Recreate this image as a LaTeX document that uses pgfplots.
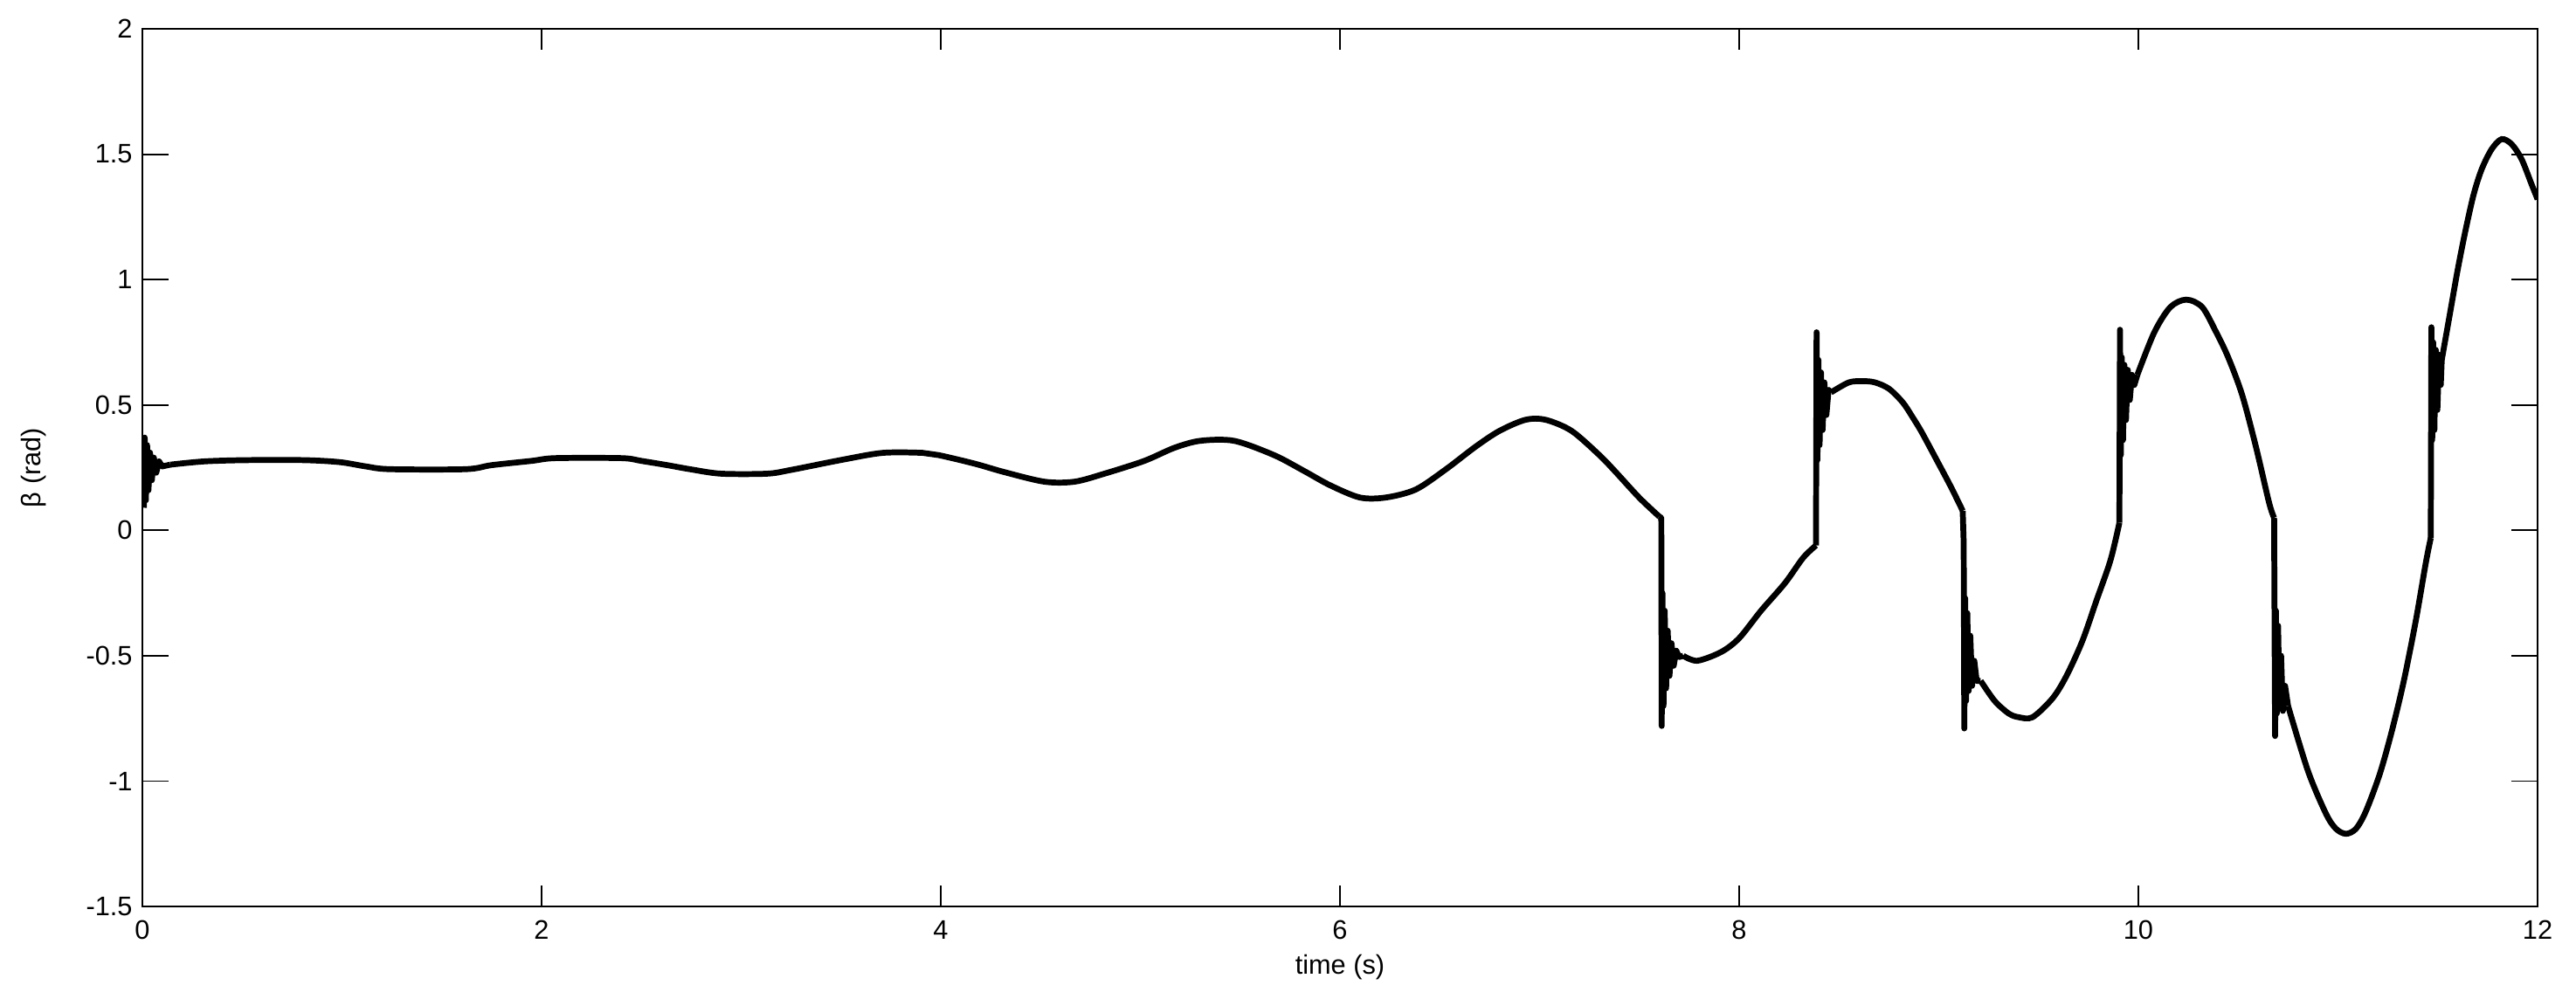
\documentclass[border=0pt]{standalone}
\usepackage{fontspec}
\setmainfont{Liberation Sans}
\usepackage{pgfplots}
\pgfplotsset{compat=1.18}
\begin{document}
\begin{tikzpicture}
\path[use as bounding box] (-50.9pt,-35.3pt) rectangle (870.65pt,324.4pt);
\begin{axis}[
  scale only axis,
  width=856.9pt, height=314.1pt,
  xmin=0, xmax=12, ymin=-1.5, ymax=2,
  xtick={0,2,4,6,8,10,12},
  xticklabels={0,2,4,6,8,10,12},
  ytick={-1.5,-1,-0.5,0,0.5,1,1.5,2},
  yticklabels={-1.5,-1,-0.5,0,0.5,1,1.5,2},
  tick align=inside, tick pos=both,
  minor tick num=0,
  major tick length=8.5pt,
  xtick style={/pgfplots/major tick length=7.5pt, line width=0.6pt, black},
  ytick style={/pgfplots/major tick length=9.4pt, line width=0.6pt, black},
  axis line style={line width=0.6pt, black},
  ticklabel style={font=\fontsize{9.6}{11.5}\selectfont},
  xticklabel style={yshift=-1.5pt},
  xlabel={time (s)},
  ylabel={β (rad)},
  xlabel style={font=\fontsize{9.6}{11.5}\selectfont, at={([yshift=-21.6pt]axis description cs:0.5,0)}, anchor=center},
  ylabel style={font=\fontsize{9.6}{11.5}\selectfont, at={([xshift=-39pt]axis description cs:0,0.5)}, anchor=center, rotate=0},
  clip=true,
]
% start transient (sharp)
\addplot[black, line width=2.1pt, line join=round] coordinates {
(0.008,0.09) (0.012,0.37) (0.018,0.12) (0.024,0.34) (0.031,0.16) (0.039,0.31)
(0.048,0.20) (0.058,0.29) (0.070,0.23) (0.084,0.275) (0.10,0.255) (0.14,0.262)
};
% segment A
\addplot[black, line width=2.1pt, smooth, tension=0.5] coordinates {
(0.14,0.262) (0.31,0.275) (0.52,0.28) (0.81,0.28) (0.99,0.272) (1.12,0.255)
(1.24,0.244) (1.62,0.244) (1.75,0.26) (1.95,0.277) (2.07,0.288) (2.40,0.288)
(2.50,0.277) (2.63,0.26) (2.75,0.243) (2.90,0.226) (3.13,0.226) (3.25,0.241)
(3.51,0.282) (3.71,0.309) (3.91,0.309) (3.99,0.300) (4.17,0.266) (4.32,0.232)
(4.52,0.194) (4.67,0.194) (4.82,0.226) (5.02,0.277) (5.17,0.329) (5.30,0.357)
(5.47,0.357) (5.67,0.300) (5.82,0.237) (5.95,0.180) (6.10,0.131) (6.23,0.131)
(6.38,0.163) (6.53,0.243) (6.68,0.334) (6.80,0.397) (6.93,0.441) (7.03,0.441)
(7.16,0.397) (7.30,0.300) (7.38,0.234) (7.50,0.13) (7.60,0.055)
};
% jump 1
\addplot[black, line width=2.1pt, line join=round] coordinates {
(7.60,0.055) (7.61,0.05) (7.612,-0.78) (7.616,-0.25) (7.621,-0.70) (7.627,-0.32)
(7.634,-0.63) (7.642,-0.40) (7.651,-0.58) (7.661,-0.45) (7.672,-0.54) (7.685,-0.48)
(7.70,-0.505) (7.72,-0.50)
};
% segment B
\addplot[black, line width=2.1pt, smooth, tension=0.5] coordinates {
(7.72,-0.50) (7.79,-0.52) (7.91,-0.485) (8.00,-0.43) (8.11,-0.32) (8.23,-0.21)
(8.32,-0.11) (8.385,-0.06)
};
% jump 2
\addplot[black, line width=2.1pt, line join=round] coordinates {
(8.385,-0.06) (8.388,0.79) (8.392,0.28) (8.397,0.68) (8.403,0.34) (8.410,0.63)
(8.418,0.40) (8.427,0.59) (8.437,0.46) (8.448,0.56) (8.46,0.55)
};
% segment C
\addplot[black, line width=2.1pt, smooth, tension=0.5] coordinates {
(8.46,0.55) (8.55,0.59) (8.62,0.595) (8.68,0.59) (8.75,0.565) (8.82,0.51)
(8.87,0.45) (8.915,0.391) (8.99,0.28) (9.06,0.175) (9.12,0.078)
};
% jump 3
\addplot[black, line width=2.1pt, line join=round] coordinates {
(9.12,0.078) (9.125,-0.05) (9.128,-0.79) (9.132,-0.27) (9.137,-0.68) (9.143,-0.33)
(9.150,-0.64) (9.158,-0.42) (9.167,-0.62) (9.178,-0.52) (9.19,-0.60) (9.21,-0.60)
};
% segment D
\addplot[black, line width=2.1pt, smooth, tension=0.5] coordinates {
(9.21,-0.60) (9.28,-0.68) (9.35,-0.73) (9.40,-0.745) (9.47,-0.745) (9.57,-0.67)
(9.64,-0.58) (9.72,-0.44) (9.79,-0.28) (9.86,-0.12) (9.905,0.03)
};
% jump 4
\addplot[black, line width=2.1pt, line join=round] coordinates {
(9.905,0.03) (9.908,0.80) (9.912,0.30) (9.917,0.69) (9.923,0.36) (9.930,0.66)
(9.938,0.44) (9.947,0.64) (9.957,0.52) (9.968,0.62) (9.98,0.58) (9.995,0.62)
};
% segment E
\addplot[black, line width=2.1pt, smooth, tension=0.5] coordinates {
(9.995,0.62) (10.08,0.79) (10.16,0.89) (10.24,0.92) (10.32,0.89) (10.39,0.79)
(10.45,0.69) (10.52,0.54) (10.59,0.33) (10.655,0.11) (10.68,0.05)
};
% jump 5
\addplot[black, line width=2.1pt, line join=round] coordinates {
(10.68,0.05) (10.685,-0.82) (10.689,-0.32) (10.694,-0.73) (10.700,-0.38) (10.707,-0.70)
(10.715,-0.50) (10.724,-0.72) (10.735,-0.62) (10.75,-0.70)
};
% segment F
\addplot[black, line width=2.1pt, smooth, tension=0.5] coordinates {
(10.75,-0.70) (10.85,-0.96) (10.94,-1.13) (10.99,-1.19) (11.04,-1.21) (11.09,-1.19)
(11.14,-1.12) (11.21,-0.97) (11.27,-0.80) (11.33,-0.60) (11.39,-0.36) (11.44,-0.13) (11.465,-0.03)
};
% jump 6
\addplot[black, line width=2.1pt, line join=round] coordinates {
(11.465,-0.03) (11.468,0.81) (11.472,0.36) (11.477,0.75) (11.483,0.40) (11.490,0.72)
(11.498,0.48) (11.507,0.70) (11.515,0.58) (11.52,0.68)
};
% segment G
\addplot[black, line width=2.1pt, smooth, tension=0.5] coordinates {
(11.52,0.68) (11.56,0.86) (11.60,1.04) (11.64,1.20) (11.68,1.34) (11.72,1.44)
(11.77,1.52) (11.82,1.56) (11.87,1.54) (11.92,1.48) (11.97,1.38) (12.0,1.32)
};
\end{axis}
\end{tikzpicture}
\end{document}
